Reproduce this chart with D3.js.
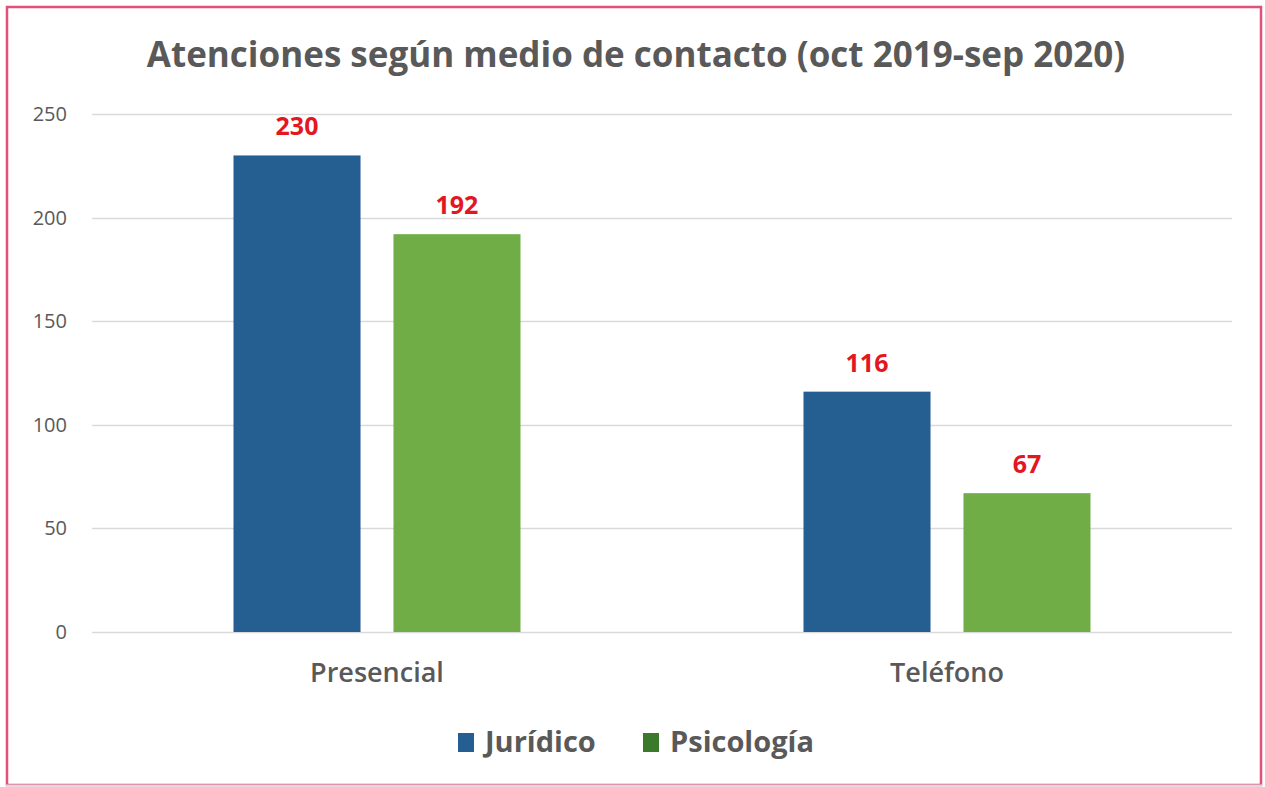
<!DOCTYPE html>
<html>
<head>
<meta charset="utf-8">
<script src="https://cdn.jsdelivr.net/npm/d3@7"></script>
<style>
  body { margin: 0; background: #fff; }
  text { font-family: "Open Sans", "Noto Sans", sans-serif; }
</style>
</head>
<body>
<div id="chart"></div>
<script>
// chart data
var categories = ["Presencial", "Teléfono"];
var seriesNames = ["Jurídico", "Psicología"];
var juridico = [230, 116];
var psicologia = [192, 67];
var yTicks = [0, 50, 100, 150, 200, 250];
var title = "Atenciones según medio de contacto (oct 2019-sep 2020)";

var colors = ["#255e91", "#70ad47"];

(function(){
  var width = 1265, height = 787;
  var margin = {top: 114, right: 33, bottom: 155, left: 92};

  var svg = d3.select("#chart").append("svg")
    .attr("width", width)
    .attr("height", height);

  // outer frame
  svg.append("rect")
    .attr("x", 7).attr("y", 7)
    .attr("width", 1254).attr("height", 778)
    .attr("fill", "#fff")
    .attr("stroke", "#e2507c")
    .attr("stroke-width", 2.5);
  svg.append("line")
    .attr("x1", 6).attr("x2", 1262)
    .attr("y1", 785.5).attr("y2", 785.5)
    .attr("stroke", "#d9d9d9").attr("stroke-width", 2);

  var w = width - margin.left - margin.right;
  var h = height - margin.top - margin.bottom;
  var g = svg.append("g").attr("transform", "translate(" + margin.left + "," + margin.top + ")");

  var data = categories.map(function(c, i) {
    return {cat: c, values: [juridico[i], psicologia[i]]};
  });

  var groupW = 287;
  var x0 = d3.scaleBand().domain(categories).range([0, w]);
  var x1 = d3.scaleBand().domain(seriesNames).range([0, groupW]).paddingInner(0.206);
  var y = d3.scaleLinear().domain([0, 250]).range([h, 0]);

  // gridlines
  g.selectAll(".grid").data(yTicks).enter().append("line")
    .attr("x1", 0).attr("x2", w)
    .attr("y1", function(d) { return Math.round(y(d)) + 0.5; })
    .attr("y2", function(d) { return Math.round(y(d)) + 0.5; })
    .attr("stroke", "#d9d9d9").attr("stroke-width", 1.5);

  // y axis labels
  var yAxis = g.append("g")
    .call(d3.axisLeft(y).tickValues(yTicks).tickSize(0).tickPadding(25));
  yAxis.select(".domain").remove();
  yAxis.selectAll("text")
    .style("font-size", "20px")
    .attr("fill", "#595959");

  // x axis labels
  var xAxis = g.append("g")
    .attr("transform", "translate(0," + h + ")")
    .call(d3.axisBottom(x0).tickSize(0).tickPadding(31));
  xAxis.select(".domain").remove();
  xAxis.selectAll("text")
    .style("font-size", "27px")
    .style("font-weight", "600")
    .attr("fill", "#595959");

  var groups = g.selectAll(".cat").data(data).enter().append("g")
    .attr("transform", function(d) {
      return "translate(" + (x0(d.cat) + (x0.bandwidth() - groupW) / 2) + ",0)";
    });

  groups.selectAll("rect")
    .data(function(d) { return d.values.map(function(v, i) { return {s: seriesNames[i], v: v, i: i}; }); })
    .enter().append("rect")
    .attr("x", function(d) { return x1(d.s); })
    .attr("width", x1.bandwidth())
    .attr("y", function(d) { return y(d.v); })
    .attr("height", function(d) { return h - y(d.v); })
    .attr("fill", function(d) { return colors[d.i]; });

  groups.selectAll(".lbl")
    .data(function(d) { return d.values.map(function(v, i) { return {s: seriesNames[i], v: v, i: i}; }); })
    .enter().append("text")
    .attr("x", function(d) { return x1(d.s) + x1.bandwidth() / 2; })
    .attr("y", function(d) { return y(d.v) - 20; })
    .attr("text-anchor", "middle")
    .style("font-size", "25px")
    .style("font-weight", "bold")
    .attr("fill", "#e3171f")
    .text(function(d) { return d.v; });

  // title
  svg.append("text")
    .attr("x", 636).attr("y", 67)
    .attr("text-anchor", "middle")
    .style("font-size", "35px")
    .style("font-weight", "bold")
    .attr("fill", "#595959")
    .text(title);

  // legend
  var legendX = [458, 643];
  var leg = svg.selectAll(".legend").data(seriesNames).enter().append("g")
    .attr("transform", function(d, i) { return "translate(" + legendX[i] + ",733)"; });
  leg.append("rect")
    .attr("width", 16).attr("height", 19)
    .attr("fill", function(d, i) { return i === 0 ? "#255e91" : "#3b7a2a"; });
  leg.append("text")
    .attr("x", 27).attr("y", 19)
    .style("font-size", "29px")
    .style("font-weight", "bold")
    .attr("fill", "#595959")
    .text(function(d) { return d; });
})();
</script>
</body>
</html>
